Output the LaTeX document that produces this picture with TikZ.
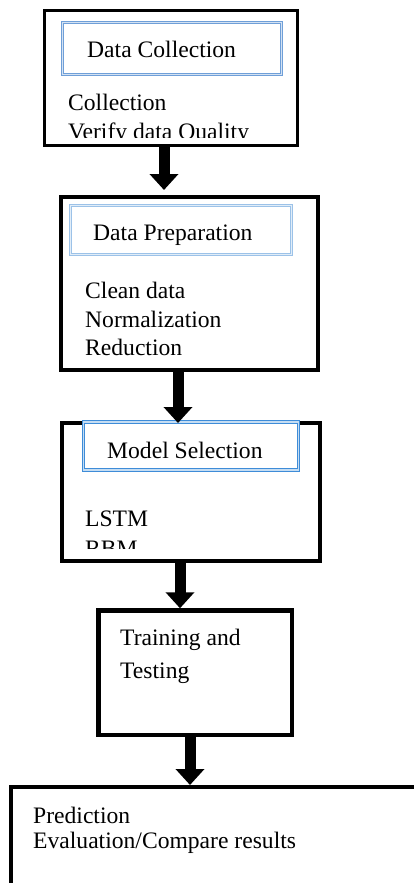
\documentclass[tikz,border=0pt]{standalone}
\usepackage{fontspec}
\setmainfont{Liberation Serif}
\usetikzlibrary{arrows.meta}
\definecolor{hdrA}{HTML}{6F9FD8}
\definecolor{hdrB}{HTML}{9CC2E8}
\definecolor{hdrC}{HTML}{3E8CD8}
\begin{document}
\begin{tikzpicture}[x=1pt,y=-1pt,
  stage/.style={draw=black,fill=white,rectangle,inner sep=0pt,outer sep=0pt},
  hdr/.style={draw=#1,double=#1!30,double distance=1.1pt,line width=1.1pt,fill=white,rectangle,inner sep=0pt,outer sep=0pt},
  txt/.style={anchor=base west,inner sep=0pt,font=\fontsize{23.6}{26}\selectfont},
  flow/.style={line width=11pt,-{Triangle[width=28pt,length=16pt]}}]
\useasboundingbox (0,0) rectangle (414,883);
\clip (0,0) rectangle (414,883);
% stage 1
\node[stage,line width=3pt,minimum width=253pt,minimum height=135pt] (b1) at (171,78){};
\node[hdr=hdrA,minimum width=219pt,minimum height=52pt] (h1) at (172,48.5){};
\node[txt] (h1t) at (87,58){Data Collection};
\begin{scope}
\clip (b1.north west) rectangle ([yshift=8.5pt]b1.south east);
\node[txt] (t1a) at (68,110){Collection};
\node[txt] (t1b) at (68,139){Verify data Quality};
\end{scope}
% stage 2
\node[stage,line width=4pt,minimum width=257pt,minimum height=173pt] (b2) at (189.5,283.5){};
\node[hdr=hdrB,minimum width=221pt,minimum height=49pt] (h2) at (181,230){};
\node[txt] (h2t) at (93,240){Data Preparation};
\node[txt] (t2a) at (85,298){Clean data};
\node[txt] (t2b) at (85,327){Normalization};
\node[txt] (t2c) at (85,355){Reduction};
% stage 3
\node[stage,line width=4pt,minimum width=258pt,minimum height=138pt] (b3) at (191,492){};
\node[hdr=hdrC,minimum width=215pt,minimum height=48pt] (h3) at (191,446){};
\node[txt] (h3t) at (107,458){Model Selection};
\begin{scope}
\clip (b3.north west) rectangle ([yshift=13pt]b3.south east);
\node[txt] (t3a) at (85,526){LSTM};
\node[txt] (t3b) at (85,556){RBM};
\end{scope}
% stage 4
\node[stage,line width=4.5pt,minimum width=193.5pt,minimum height=124.5pt] (b4) at (195,672.5){};
\node[txt] (t4a) at (120,645){Training and};
\node[txt] (t4b) at (120,678){Testing};
% stage 5
\node[stage,line width=3.5pt,minimum width=450pt,minimum height=150pt,anchor=north west] (b5) at (11,787){};
\node[txt] (t5a) at (33,823){Prediction};
\node[txt] (t5b) at (33,848){Evaluation/Compare results};
% arrows
\draw[flow,shorten >=7pt] ([xshift=-7pt]b1.south) -- ([xshift=-7pt]b1.south |- b2.north);
\draw[flow] ([xshift=-11.5pt]b2.south) -- ([xshift=-11.5pt]b2.south |- b3.north);
\draw[flow,shorten >=2pt] ([xshift=-11pt]b3.south) -- ([xshift=-11pt]b3.south |- b4.north);
\draw[flow,shorten >=2pt] ([xshift=-5pt]b4.south) -- ([xshift=-5pt]b4.south |- b5.north);
\end{tikzpicture}
\end{document}
